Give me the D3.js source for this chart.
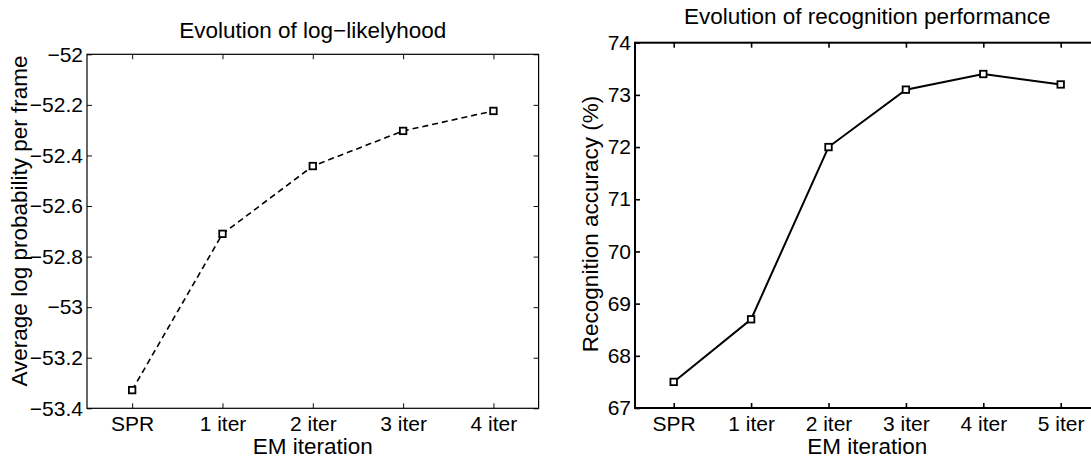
<!DOCTYPE html>
<html>
<head>
<meta charset="utf-8">
<script src="https://cdn.jsdelivr.net/npm/d3@7"></script>
<style>
  html, body { margin: 0; padding: 0; background: #fff; }
  svg { display: block; font-family: "Liberation Sans", Arial, Helvetica, sans-serif; }
</style>
</head>
<body>
<svg id="chart" width="1091" height="462"></svg>
<script>
// ---- Data ----
const categoriesLeft = ["SPR", "1 iter", "2 iter", "3 iter", "4 iter"];
const logLikelihood = [-53.328, -52.71, -52.442, -52.303, -52.224];
const yTicksLeft = [-52, -52.2, -52.4, -52.6, -52.8, -53, -53.2, -53.4];

const categoriesRight = ["SPR", "1 iter", "2 iter", "3 iter", "4 iter", "5 iter"];
const accuracy = [67.5, 68.7, 72.0, 73.1, 73.4, 73.2];
const yTicksRight = [67, 68, 69, 70, 71, 72, 73, 74];

const titleLeft = "Evolution of log\u2212likelyhood";
const titleRight = "Evolution of recognition performance";
const xLabel = "EM iteration";
const yLabelLeft = "Average log probability per frame";
const yLabelRight = "Recognition accuracy (%)";

const svg = d3.select("#chart");
const fmt = v => String(v).replace("-", "\u2212");

function panel(opts) {
  const { cats, vals, yTicks, yDomain, left, right, top, bottom, title, titleY,
          yLabel, yLabelX, yLabelY, dash, axisW, lineW } = opts;
  const x = d3.scaleLinear().domain([0.5, cats.length + 0.5]).range([left, right]);
  const y = d3.scaleLinear().domain(yDomain).range([bottom, top]);
  const g = svg.append("g");
  const idx = cats.map((c, i) => i + 1);
  const tl = 5;

  const bx = g.append("g").attr("transform", `translate(0,${bottom})`)
    .call(d3.axisBottom(x).tickValues(idx).tickFormat((d) => cats[d - 1])
      .tickSizeInner(-tl).tickSizeOuter(0).tickPadding(8));
  const tx = g.append("g").attr("transform", `translate(0,${top})`)
    .call(d3.axisTop(x).tickValues(idx).tickFormat("").tickSizeInner(-tl).tickSizeOuter(0));
  const ly = g.append("g").attr("transform", `translate(${left},0)`)
    .call(d3.axisLeft(y).tickValues(yTicks).tickFormat(fmt)
      .tickSizeInner(-tl).tickSizeOuter(0).tickPadding(4));
  const ry = g.append("g").attr("transform", `translate(${right},0)`)
    .call(d3.axisRight(y).tickValues(yTicks).tickFormat("").tickSizeInner(-tl).tickSizeOuter(0));

  [bx, tx, ly, ry].forEach(a => {
    a.select(".domain").remove();
    a.selectAll(".tick line").attr("stroke", "#000").attr("stroke-width", axisW * 0.8);
    a.selectAll("text").attr("font-size", 21).attr("fill", "#000")
      .attr("font-family", "'Liberation Sans', Arial, Helvetica, sans-serif");
  });

  g.append("rect").attr("x", left).attr("y", top)
    .attr("width", right - left).attr("height", bottom - top)
    .attr("fill", "none").attr("stroke", "#000").attr("stroke-width", axisW);

  const line = d3.line().x((d, i) => x(i + 1)).y(d => y(d));
  g.append("path").datum(vals).attr("d", line)
    .attr("fill", "none").attr("stroke", "#000").attr("stroke-width", lineW)
    .attr("stroke-dasharray", dash ? "6,4" : null);

  const ms = 6.5;
  g.selectAll("rect.mk").data(vals).enter().append("rect").attr("class", "mk")
    .attr("x", (d, i) => x(i + 1) - ms / 2).attr("y", d => y(d) - ms / 2)
    .attr("width", ms).attr("height", ms)
    .attr("fill", "#fff").attr("stroke", "#000").attr("stroke-width", 1.8);

  g.append("text").attr("x", (left + right) / 2).attr("y", titleY)
    .attr("text-anchor", "middle").attr("font-size", 22.5).text(title);
  g.append("text").attr("x", (left + right) / 2).attr("y", 454)
    .attr("text-anchor", "middle").attr("font-size", 22.5).text(xLabel);
  g.append("text").attr("transform", `translate(${yLabelX},${yLabelY}) rotate(-90)`)
    .attr("text-anchor", "middle").attr("font-size", 22.5).text(yLabel);
}

panel({
  cats: categoriesLeft, vals: logLikelihood, yTicks: yTicksLeft, yDomain: [-53.4, -52],
  left: 87, right: 538.6, top: 54.3, bottom: 408.3,
  title: titleLeft, titleY: 38, yLabel: yLabelLeft, yLabelX: 27, yLabelY: 221,
  dash: true, axisW: 1.2, lineW: 1.6
});

panel({
  cats: categoriesRight, vals: accuracy, yTicks: yTicksRight, yDomain: [67, 74],
  left: 635, right: 1099.4, top: 42.7, bottom: 408,
  title: titleRight, titleY: 24, yLabel: yLabelRight, yLabelX: 598, yLabelY: 224,
  dash: false, axisW: 2, lineW: 2
});
</script>
</body>
</html>
